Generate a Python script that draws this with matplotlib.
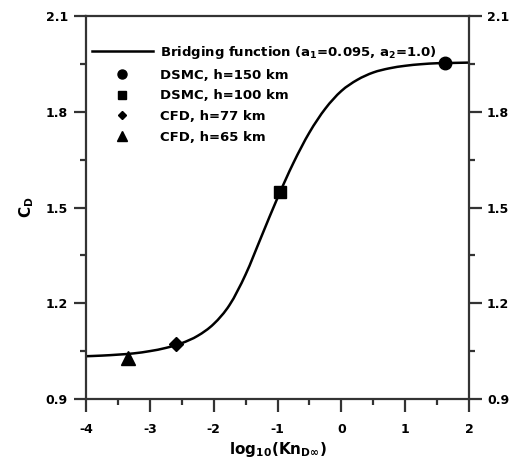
import matplotlib
matplotlib.use("Agg")
import matplotlib.pyplot as plt
from matplotlib.lines import Line2D
from matplotlib.path import Path
from matplotlib.patches import PathPatch
from matplotlib.ticker import MultipleLocator, FormatStrFormatter

plt.rcParams['font.family'] = ['DejaVu Sans']
plt.rcParams['font.weight'] = 'bold'
plt.rcParams['mathtext.fontset'] = 'dejavusans'
plt.rcParams['mathtext.default'] = 'bf'
plt.rcParams['axes.unicode_minus'] = False

# Bridging function curve
curve_x = [-4.0, -3.75, -3.5, -3.25, -3.0, -2.75, -2.5, -2.25, -2.0, -1.75, -1.5, -1.25, -1.0,
           -0.75, -0.5, -0.25, 0.0, 0.25, 0.5, 0.75, 1.0, 1.25, 1.5, 1.75, 2.0]
curve_y = [1.034, 1.036, 1.039, 1.043, 1.050, 1.060, 1.075, 1.098, 1.135, 1.195, 1.290, 1.410, 1.530,
           1.640, 1.735, 1.810, 1.865, 1.900, 1.923, 1.936, 1.944, 1.949, 1.952, 1.953, 1.954]

# Data points
dsmc150_x, dsmc150_y = [1.62], [1.952]
dsmc100_x, dsmc100_y = [-0.96], [1.547]
cfd77_x, cfd77_y = [-2.595], [1.071]
cfd65_x, cfd65_y = [-3.337], [1.030]

labels = ['Bridging function (a$_1$=0.095, a$_2$=1.0)',
          'DSMC, h=150 km', 'DSMC, h=100 km', 'CFD, h=77 km', 'CFD, h=65 km']


def smooth_path(xs, ys):
    """Catmull-Rom curve through the read points, as cubic Bezier segments."""
    pts = list(zip(xs, ys))
    n = len(pts)
    verts = [pts[0]]
    codes = [Path.MOVETO]
    for i in range(n - 1):
        p0 = pts[i - 1] if i > 0 else pts[i]
        p1 = pts[i]
        p2 = pts[i + 1]
        p3 = pts[i + 2] if i + 2 < n else pts[i + 1]
        c1 = (p1[0] + (p2[0] - p0[0]) / 6.0, p1[1] + (p2[1] - p0[1]) / 6.0)
        c2 = (p2[0] - (p3[0] - p1[0]) / 6.0, p2[1] - (p3[1] - p1[1]) / 6.0)
        verts += [c1, c2, p2]
        codes += [Path.CURVE4] * 3
    return Path(verts, codes)


fig = plt.figure(figsize=(5.09, 4.59), dpi=100)
ax = fig.add_axes([86/509, 1-399/459, (469-86)/509, (399-16)/459])

ax.add_patch(PathPatch(smooth_path(curve_x, curve_y), facecolor='none',
                       edgecolor='black', lw=1.8, zorder=2))
ax.plot(dsmc150_x, dsmc150_y, 'o', color='black', ms=9, zorder=3)
ax.plot(dsmc100_x, dsmc100_y, 's', color='black', ms=8.5, zorder=3)
ax.plot(cfd77_x, cfd77_y, 'D', color='black', ms=7, zorder=3)
ax.plot(cfd65_x, cfd65_y, '^', color='black', ms=9.5, zorder=3)

ax.set_xlim(-4, 2)
ax.set_ylim(0.9, 2.1)
ax.xaxis.set_major_locator(MultipleLocator(1))
ax.xaxis.set_minor_locator(MultipleLocator(0.5))
ax.yaxis.set_major_locator(MultipleLocator(0.3))
ax.yaxis.set_minor_locator(MultipleLocator(0.15))
ax.yaxis.set_major_formatter(FormatStrFormatter('%.1f'))

for s in ax.spines.values():
    s.set_linewidth(1.6)
    s.set_color('#333333')

ax.tick_params(axis='both', which='major', direction='out', length=9, width=1.6,
               color='#333333', labelsize=9)
ax.tick_params(axis='both', which='minor', direction='out', length=4.5, width=1.6,
               color='#333333')
ax.tick_params(axis='y', which='both', left=True, right=True, labelleft=True, labelright=True)
ax.tick_params(axis='y', which='major', pad=4)
ax.tick_params(axis='x', which='both', top=False, bottom=True)
ax.tick_params(axis='x', which='major', pad=8)

ax.set_xlabel(r'log$_{10}$(Kn$_{D\infty}$)', fontsize=11, fontweight='bold', labelpad=3)
ax.set_ylabel('C$_D$', fontsize=11, fontweight='bold', labelpad=7)

handles = [Line2D([], [], color='black', lw=1.8),
           Line2D([], [], ls='', marker='o', color='black', ms=6.5),
           Line2D([], [], ls='', marker='s', color='black', ms=6),
           Line2D([], [], ls='', marker='D', color='black', ms=4.5),
           Line2D([], [], ls='', marker='^', color='black', ms=7)]
leg = ax.legend(handles, labels, loc='upper left', bbox_to_anchor=(0.0157, 0.927),
                frameon=False, fontsize=9.5, handlelength=4.6, handletextpad=0.53,
                labelspacing=0.58, borderaxespad=0.0, borderpad=0.0)
for t in leg.get_texts():
    t.set_fontweight('bold')

fig.savefig('out.png', dpi=100)
